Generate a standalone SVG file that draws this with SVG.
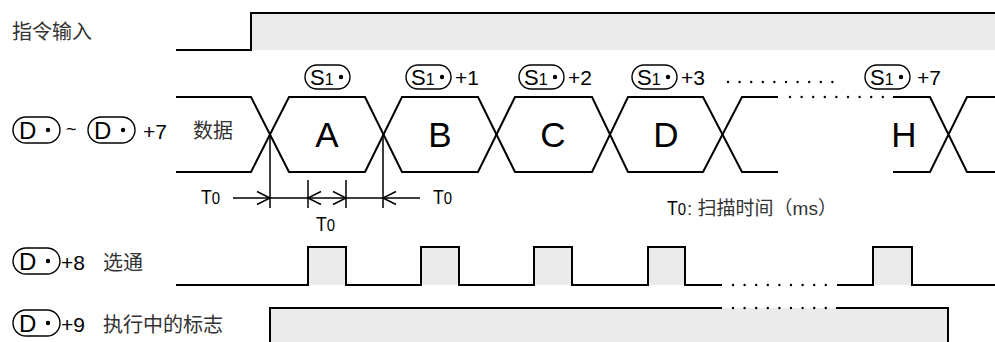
<svg xmlns="http://www.w3.org/2000/svg" width="995" height="342" viewBox="0 0 995 342">
<style>
.w{fill:none;stroke:#000;stroke-width:2;stroke-linejoin:miter}
.f{fill:#ebebeb;stroke:none}
.dot{fill:none;stroke:#000;stroke-width:2.4;stroke-linecap:round;stroke-dasharray:0 11.6}
.ov{fill:none;stroke:#000;stroke-width:1.4}
.t{font-family:"Liberation Sans",Arial,sans-serif;fill:#000}
.cj{font-family:"Liberation Sans","Noto Sans CJK SC",sans-serif;fill:#333}
.ln{fill:none;stroke:#000;stroke-width:1.5}
</style>
<rect width="995" height="342" fill="#fff"/>

<g id="cmd-input">
<text class="cj" x="12" y="39" font-size="20">指令输入</text>
<rect class="f" x="252" y="13" width="743" height="37"/>
<path class="w" d="M176,50 H251 V13 H995" stroke-width="2.4"/>
</g>

<g id="data">
<rect class="ov" x="13" y="117" width="47" height="26" rx="13"/>
<text class="t" x="19" y="139" font-size="24">D</text>
<circle cx="48" cy="130" r="2.2"/>
<text class="t" x="66" y="135" font-size="18">~</text>
<rect class="ov" x="88" y="117" width="47" height="26" rx="13"/>
<text class="t" x="94" y="139" font-size="24">D</text>
<circle cx="123" cy="130" r="2.2"/>
<text class="t" x="143" y="138.5" font-size="21">+7</text>
<text class="cj" x="193" y="138" font-size="20">数据</text>

<path class="w" d="M176,172 H251 L289,97 H365 L402,172 H478 L515,97 H592 L628,172 H703 L742,97 H778"/>
<path class="w" d="M176,97 H251 L289,172 H365 L402,97 H478 L515,172 H592 L628,97 H703 L742,172 H778"/>
<path class="dot" d="M790,97 H890"/>
<path class="w" d="M893,97 H930 L967,172 H995 M893,172 H930 L967,97 H995"/>

<text class="t" x="327" y="147" font-size="35" text-anchor="middle">A</text>
<text class="t" x="440" y="147" font-size="35" text-anchor="middle">B</text>
<text class="t" x="553" y="147" font-size="35" text-anchor="middle">C</text>
<text class="t" x="666" y="147" font-size="35" text-anchor="middle">D</text>
<text class="t" x="904" y="147" font-size="35" text-anchor="middle">H</text>

<g id="s1-labels">
<rect class="ov" x="305" y="65" width="45" height="24" rx="12"/>
<text class="t" x="310" y="85" font-size="22">S<tspan font-size="16">1</tspan></text>
<circle cx="341" cy="77" r="2.2"/>
<rect class="ov" x="406" y="65" width="45" height="24" rx="12"/>
<text class="t" x="411" y="85" font-size="22">S<tspan font-size="16">1</tspan></text>
<circle cx="442" cy="77" r="2.2"/>
<text class="t" x="455" y="85" font-size="21">+1</text>
<rect class="ov" x="519" y="65" width="45" height="24" rx="12"/>
<text class="t" x="524" y="85" font-size="22">S<tspan font-size="16">1</tspan></text>
<circle cx="555" cy="77" r="2.2"/>
<text class="t" x="568" y="85" font-size="21">+2</text>
<rect class="ov" x="632" y="65" width="45" height="24" rx="12"/>
<text class="t" x="637" y="85" font-size="22">S<tspan font-size="16">1</tspan></text>
<circle cx="668" cy="77" r="2.2"/>
<text class="t" x="681" y="85" font-size="21">+3</text>
<path class="dot" d="M728,82 H843"/>
<rect class="ov" x="865" y="65" width="45" height="24" rx="12"/>
<text class="t" x="870" y="85" font-size="22">S<tspan font-size="16">1</tspan></text>
<circle cx="901" cy="77" r="2.2"/>
<text class="t" x="917" y="85" font-size="21">+7</text>
</g>
</g>

<g id="connectors">
<path class="ln" d="M270,134 V208 M383,134 V208 M308,180 V208 M346,180 V208 M233,198 H420"/>
<path class="ln" d="M257,191.5 L270,198 L257,204.5 M321,191.5 L308,198 L321,204.5 M333,191.5 L346,198 L333,204.5 M396,191.5 L383,198 L396,204.5"/>
</g>

<g id="t0-labels">
<text class="t" x="201" y="204" font-size="20" textLength="19" lengthAdjust="spacingAndGlyphs">T<tspan font-size="17">0</tspan></text>
<text class="t" x="316" y="231" font-size="20" textLength="19" lengthAdjust="spacingAndGlyphs">T<tspan font-size="17">0</tspan></text>
<text class="t" x="433" y="204" font-size="20" textLength="19" lengthAdjust="spacingAndGlyphs">T<tspan font-size="17">0</tspan></text>
<text class="t" x="667" y="215" font-size="20" textLength="19" lengthAdjust="spacingAndGlyphs">T<tspan font-size="17">0</tspan></text>
<text class="cj" x="687" y="215" font-size="19">: 扫描时间（ms）</text>
</g>

<g id="strobe">
<rect class="ov" x="13" y="248" width="47" height="26" rx="13"/>
<text class="t" x="19" y="270" font-size="24">D</text>
<circle cx="48" cy="261" r="2.2"/>
<text class="t" x="61" y="270" font-size="21">+8</text>
<text class="cj" x="103" y="270" font-size="20">选通</text>
<rect class="f" x="308" y="247" width="38" height="38"/>
<rect class="f" x="421" y="247" width="38" height="38"/>
<rect class="f" x="534" y="247" width="38" height="38"/>
<rect class="f" x="648" y="247" width="37" height="38"/>
<rect class="f" x="873" y="247" width="39" height="38"/>
<path class="w" d="M176,285 H308 V247 H346 V285 H421 V247 H459 V285 H534 V247 H572 V285 H648 V247 H685 V285 H722"/>
<path class="dot" d="M733,285 H826"/>
<path class="w" d="M837,285 H873 V247 H912 V285 H995"/>
</g>

<g id="busy-flag">
<rect class="ov" x="13" y="310" width="47" height="26" rx="13"/>
<text class="t" x="19" y="332" font-size="24">D</text>
<circle cx="48" cy="323" r="2.2"/>
<text class="t" x="61" y="332" font-size="21">+9</text>
<text class="cj" x="103" y="332" font-size="20">执行中的标志</text>
<rect class="f" x="270" y="308" width="678" height="34"/>
<path class="w" d="M270,342 V308 H722"/>
<path class="dot" d="M733,308 H826"/>
<path class="w" d="M836,308 H948 V342"/>
</g>
</svg>
